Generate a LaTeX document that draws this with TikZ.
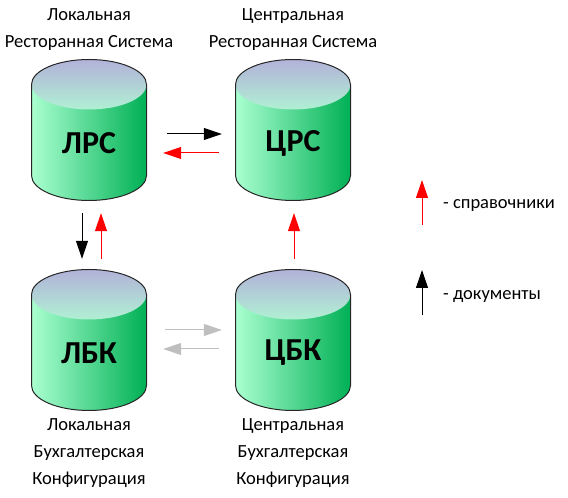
\documentclass[tikz,border=0pt]{standalone}
\usepackage{fontspec}
\setmainfont{Carlito}
\usetikzlibrary{positioning,arrows.meta}

\definecolor{sideleft}{RGB}{170,255,208}
\definecolor{sideright}{RGB}{0,176,85}
\definecolor{lidtop}{RGB}{178,178,216}
\definecolor{lidbottom}{RGB}{176,240,212}

\tikzset{
  cylbox/.style={minimum width=115pt,minimum height=140pt,inner sep=0pt},
  cyltext/.style={yshift=-13pt,inner sep=0pt,font=\fontsize{32}{34}\selectfont\bfseries},
  caption/.style={align=center,inner sep=0pt,font=\fontsize{18.5}{27}\selectfont},
  legend/.style={anchor=west,inner sep=0pt,font=\fontsize{18.5}{20}\selectfont},
  flow/.style={line width=1pt,-{Triangle[length=18pt,width=12pt]}},
  docflow/.style={flow,black},
  refflow/.style={flow,red},
  offflow/.style={flow,black!25},
}

\begin{document}
\begin{tikzpicture}[x=1pt,y=1pt]
  \useasboundingbox (0,0) rectangle (568,498);

  \foreach \name/\x/\y/\txt in {lrs/89/368/ЛРС,crs/293/368/ЦРС,lbk/89/158/ЛБК,cbk/293/158/ЦБК}{
    \shade[left color=sideleft,right color=sideright] (\x-57.5,\y+45.5) -- (\x-57.5,\y-45.5)
      arc[start angle=180,end angle=360,x radius=57.5pt,y radius=25pt] -- (\x+57.5,\y+45.5) -- cycle;
    \shade[top color=lidtop,bottom color=lidbottom] (\x,\y+45.5) ellipse[x radius=57.5pt,y radius=25pt];
    \draw[line width=1pt,black!85] (\x-57.5,\y+45.5) -- (\x-57.5,\y-45.5)
      arc[start angle=180,end angle=360,x radius=57.5pt,y radius=25pt] -- (\x+57.5,\y+45.5)
      arc[start angle=0,end angle=180,x radius=57.5pt,y radius=25pt];
    \node[cylbox,label={[cyltext]center:\txt}] (\name) at (\x,\y) {};
  }

  \node[caption,above=9pt of lrs] (lrstext) {Локальная\\Ресторанная Система};
  \node[caption,above=9pt of crs] (crstext) {Центральная\\Ресторанная Система};
  \node[caption,below=8pt of lbk] (lbktext) {Локальная\\Бухгалтерская\\Конфигурация};
  \node[caption,below=8pt of cbk] (cbktext) {Центральная\\Бухгалтерская\\Конфигурация};

  \draw[docflow] ([shift={(20,-4)}]lrs.east) -- ([shift={(-13.5,-4)}]crs.west);
  \draw[refflow] ([shift={(-16.5,-23)}]crs.west) -- ([shift={(16.5,-23)}]lrs.east);

  \draw[docflow] ([shift={(-7,-13)}]lrs.south) -- ([shift={(-7,11)}]lbk.north);
  \draw[refflow] ([shift={(12,11)}]lbk.north) -- ([shift={(12,-13)}]lrs.south);

  \draw[refflow] ([shift={(1,11)}]cbk.north) -- ([shift={(1,-13)}]crs.south);

  \draw[offflow] ([shift={(18.5,10)}]lbk.east) -- ([shift={(-13.5,10)}]cbk.west);
  \draw[offflow] ([shift={(-16.5,-9)}]cbk.west) -- ([shift={(16.5,-9)}]lbk.east);

  \coordinate (reffrom) at (422,273);
  \coordinate (refto) at (422,318);
  \coordinate (docfrom) at (422,183);
  \coordinate (docto) at (422,228);
  \draw[refflow] (reffrom) -- (refto);
  \draw[docflow] (docfrom) -- (docto);
  \node[legend] (reftext) at (443,292.5) {- справочники};
  \node[legend] (doctext) at (443,201.5) {- документы};

\end{tikzpicture}
\end{document}
